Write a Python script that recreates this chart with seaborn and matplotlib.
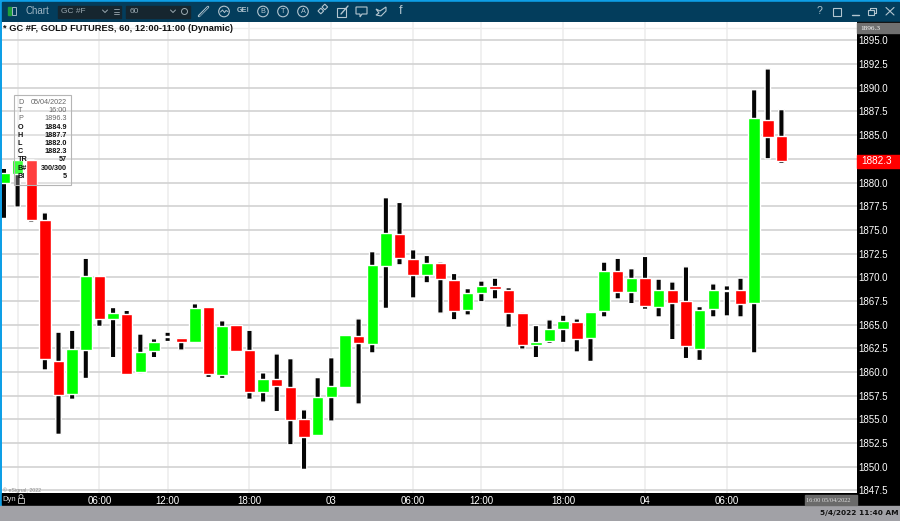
import pandas as pd
import matplotlib
matplotlib.use('Agg')
import matplotlib.pyplot as plt
from matplotlib.patches import Rectangle, Circle, Polygon
import seaborn as sns

sns.set_style('white')
plt.rcParams['font.family'] = ['Liberation Sans', 'DejaVu Sans']

# values, one entry per hourly bar
opens = [1879.9, 1880.9, 1882.4, 1876.0, 1861.2, 1857.7, 1862.3, 1870.1, 1865.6, 1866.1,
         1860.0, 1862.2, 1863.65, 1863.6, 1863.2, 1866.8, 1859.7, 1864.9, 1862.3, 1857.9,
         1859.2, 1858.4, 1855.0, 1853.3, 1857.4, 1858.4, 1863.8, 1862.9, 1871.2, 1874.6,
         1871.9, 1870.2, 1871.5, 1869.7, 1866.5, 1868.3, 1869.1, 1868.7, 1866.2, 1862.8,
         1863.3, 1864.5, 1865.3, 1863.6, 1866.4, 1870.7, 1868.4, 1869.9, 1866.9, 1868.7,
         1867.5, 1862.4, 1866.6, 1868.55, 1868.7, 1867.3, 1886.6, 1884.9]
highs = [1881.5, 1882.4, 1882.4, 1876.8, 1864.2, 1864.4, 1872.0, 1870.2, 1866.8, 1866.5,
         1864.0, 1863.5, 1864.2, 1863.6, 1867.2, 1866.8, 1865.4, 1864.9, 1864.4, 1859.9,
         1861.9, 1861.4, 1856.0, 1859.4, 1861.5, 1863.9, 1865.6, 1872.7, 1878.4, 1877.9,
         1872.9, 1872.3, 1871.6, 1870.4, 1868.8, 1869.6, 1869.9, 1868.9, 1866.3, 1864.9,
         1865.5, 1866.0, 1865.6, 1866.4, 1871.6, 1872.0, 1870.9, 1872.2, 1869.8, 1869.5,
         1871.1, 1866.9, 1869.3, 1869.1, 1869.9, 1889.8, 1892.0, 1887.7]
lows = [1876.2, 1877.4, 1875.8, 1860.2, 1853.4, 1857.1, 1859.3, 1864.8, 1861.5, 1859.8,
        1859.8, 1861.5, 1863.2, 1862.3, 1863.2, 1859.4, 1859.3, 1862.1, 1857.1, 1856.8,
        1855.8, 1852.3, 1849.7, 1853.2, 1854.8, 1858.3, 1856.6, 1862.0, 1866.7, 1871.3,
        1867.8, 1869.4, 1866.2, 1865.5, 1866.0, 1867.4, 1867.7, 1864.7, 1862.4, 1861.5,
        1863.0, 1863.1, 1862.1, 1861.1, 1865.8, 1867.7, 1867.2, 1866.6, 1865.8, 1863.4,
        1861.4, 1861.2, 1865.8, 1865.9, 1865.8, 1862.0, 1882.5, 1882.0]
closes = [1881.0, 1882.4, 1876.0, 1861.4, 1857.6, 1862.4, 1870.1, 1865.6, 1866.2, 1859.8,
          1862.1, 1863.2, 1863.75, 1863.2, 1866.7, 1859.8, 1864.8, 1862.25, 1857.9, 1859.2,
          1858.5, 1854.9, 1853.1, 1857.4, 1858.5, 1863.9, 1863.0, 1871.3, 1874.7, 1872.0,
          1870.2, 1871.5, 1869.8, 1866.4, 1868.3, 1869.1, 1868.8, 1866.2, 1862.8, 1863.2,
          1864.5, 1865.4, 1863.5, 1866.3, 1870.7, 1868.4, 1869.9, 1867.0, 1868.7, 1867.3,
          1862.7, 1866.5, 1868.6, 1868.65, 1867.2, 1886.8, 1884.8, 1882.3]

tick_bars = [1, 7, 12, 18, 24, 30, 35, 41, 47, 53]
tick_labels = ['', '06:00', '12:00', '18:00', '03', '06:00', '12:00', '18:00', '04', '06:00']
price_ticks = [1847.5 + 2.5 * i for i in range(20)]

info_keys = ['D', 'T', 'P', 'O', 'H', 'L', 'C', 'TR', 'B#', 'BI']
info_values = ['05/04/2022', '16:00', '1896.3', '1884.9', '1887.7', '1882.0', '1882.3', '57', '300/300', '5']

df = pd.DataFrame({'bar': range(len(opens)), 'open': opens, 'high': highs, 'low': lows, 'close': closes})
df['body'] = (df['close'] - df['open']).abs()
df['bottom'] = df[['open', 'close']].min(axis=1)
df['range'] = df['high'] - df['low']
up = df[df['close'] >= df['open']]
down = df[df['close'] < df['open']]

W, H = 900, 521
fig = plt.figure(figsize=(9, 5.21), dpi=100)

# window chrome behind the chart, in pixels
back = fig.add_axes([0, 0, 1, 1], zorder=0)
back.set_xlim(0, W)
back.set_ylim(H, 0)
back.axis('off')
back.add_patch(Rectangle((0, 0), W, H, color='#0e9fe6'))
back.add_patch(Rectangle((1.5, 1.5), W - 3, 21, color='#033d5c'))
back.add_patch(Rectangle((857, 22), 43, 483, color='black'))
back.add_patch(Rectangle((1.5, 493), 856, 12, color='black'))
back.add_patch(Rectangle((0, 506), W, 15, color='#a1a1a6'))

# chart
left, right, top, bottom = 1.5, 857, 22, 493
ax = fig.add_axes([left / W, 1 - bottom / H, (right - left) / W, (bottom - top) / H], zorder=1)
ax.set_axisbelow(True)
sns.barplot(data=df, x='bar', y='range', bottom=df['low'].values, native_scale=True, color='#050505',
            saturation=1, width=0.4, errorbar=None, ax=ax)
for p in ax.patches:
    p.set_snap(False)
sns.barplot(data=up, x='bar', y='body', bottom=up['bottom'].values, native_scale=True, color='#00ff00',
            saturation=1, width=0.84, errorbar=None, ax=ax)
sns.barplot(data=down, x='bar', y='body', bottom=down['bottom'].values, native_scale=True, color='#ff0000',
            saturation=1, width=0.84, errorbar=None, ax=ax)
ax.set_xlim(-0.18, 62.54)
ax.set_ylim(1847.21, 1896.95)
ax.set_xlabel('')
ax.set_ylabel('')
ax.set_xticks(tick_bars)
ax.set_xticklabels(tick_labels)
ax.set_yticks(price_ticks)
# the 1882.5 label sits behind the red last-price tag
ax.set_yticklabels(['' if p == 1882.5 else f'{p:.1f}' for p in price_ticks])
ax.yaxis.tick_right()
ax.grid(True, axis='y', color='#d2d2d2', linewidth=1.2)
ax.grid(True, axis='x', color='#ededed', linewidth=1.2)
ax.axhline(1896.3, color='#ececec', linewidth=1, zorder=0)
ax.tick_params(axis='x', colors='white', length=0, pad=2.5, labelsize=7)
ax.tick_params(axis='y', colors='white', length=0, pad=1, labelsize=7)
sns.despine(ax=ax, left=True, bottom=True, top=True, right=True)

# everything on top of the chart
front = fig.add_axes([0, 0, 1, 1], zorder=2)
front.set_xlim(0, W)
front.set_ylim(H, 0)
front.axis('off')
front.patch.set_alpha(0)


def t(x, y, s, size=7, color='white', ha='left', **kw):
    front.text(x, y, s, fontsize=size, color=color, ha=ha, va='center', **kw)


t(3, 28.5, '* GC #F, GOLD FUTURES, 60, 12:00-11:00 (Dynamic)', size=6.7, color='#111111', fontweight='bold')
t(3, 490.5, '© eSignal, 2022', size=3.8, color='#8a8a8a')
t(2, 499.5, 'Dyn', size=5.5, color='#dddddd')
front.add_patch(Rectangle((18, 497.5), 6, 5.5, fill=False, edgecolor='#cccccc', linewidth=0.6))
front.add_patch(Circle((21, 496.5), 2, fill=False, edgecolor='#cccccc', linewidth=0.6))

# tooltip
front.add_patch(Rectangle((14, 95), 57, 90, facecolor='white', alpha=0.25, edgecolor='none'))
front.add_patch(Rectangle((14, 95), 57, 90, fill=False, edgecolor='#b5b5b5', linewidth=0.8))
for i, (k, v) in enumerate(zip(info_keys, info_values)):
    y = 102.5 + i * 8.2
    plain = i < 3
    col = '#666666' if plain else '#111111'
    wt = 'normal' if plain else 'bold'
    t(18, y, k, size=5.2, color=col, fontweight=wt)
    t(67, y, v, size=5.2, color=col, ha='right', fontweight=wt)

# right panel labels
front.add_patch(Rectangle((857, 23), 43, 10, color='#707070'))
t(860, 28.3, '1896.3', size=5.2, color='white', family='Liberation Serif')
front.add_patch(Rectangle((857, 155), 43, 12.5, color='#ff0000'))
t(861.5, 161.3, '1882.3', size=7.2)
front.add_patch(Rectangle((805, 495), 52, 10, color='#6a6a6a'))
t(806, 500, '16:00 05/04/2022', size=4.6, color='#dddddd', family='Liberation Serif')
t(898, 513.5, '5/4/2022 11:40 AM', size=5.3, color='#111111', ha='right', fontweight='bold', family='DejaVu Sans')

# toolbar
front.add_patch(Rectangle((8, 7), 3, 8, color='#1e9e3c'))
front.add_patch(Rectangle((12, 7), 4, 8, fill=False, edgecolor='#9fb6c4', linewidth=0.7))
t(25, 11.5, 'Chart', size=7, color='#9fb6c4')
front.add_patch(Rectangle((58, 6), 63, 12, color='#16262f'))
front.add_patch(Rectangle((126, 6), 64, 12, color='#16262f'))
t(61, 11.8, 'GC #F', size=6, color='#9aa8b0')
t(130, 11.8, '60', size=6, color='#9aa8b0')
for x0 in (105, 173):
    front.plot([x0 - 2.5, x0, x0 + 2.5], [10, 12.5, 10], color='#9aa8b0', lw=0.7)
for yy in (9, 11.5, 14):
    front.plot([113.5, 118.5], [yy, yy], color='#9aa8b0', lw=0.6)
front.add_patch(Circle((184.5, 11.5), 3, fill=False, edgecolor='#9aa8b0', linewidth=0.7))

icon = '#b4c6d0'
front.plot([199, 208], [16, 7], color=icon, lw=1.8)
front.plot([199.5, 208], [16, 7], color='#033d5c', lw=0.6)
for xc, s in [(224, ''), (263, 'B'), (283, 'T'), (303, 'A')]:
    front.add_patch(Circle((xc, 11.5), 5.3, fill=False, edgecolor=icon, linewidth=0.8))
    t(xc, 11.7, s, size=5.2, color=icon, ha='center')
front.plot([220.5, 222.5, 224.5, 226, 228], [12, 10, 12.5, 10.5, 11.5], color=icon, lw=0.7)
t(243.5, 11, 'GE!', size=5.2, color=icon, ha='center', fontweight='bold')
front.add_patch(Rectangle((318, 11), 4, 4, angle=-45, fill=False, edgecolor=icon, linewidth=0.8))
front.add_patch(Rectangle((322, 7), 4, 4, angle=-45, fill=False, edgecolor=icon, linewidth=0.8))
front.add_patch(Rectangle((337, 8), 9, 9, fill=False, edgecolor=icon, linewidth=0.8))
front.plot([341, 348], [14, 6], color=icon, lw=1)
front.add_patch(Polygon([(356, 7), (367, 7), (367, 14), (362, 14), (360, 17), (360, 14), (356, 14)],
                        fill=False, edgecolor=icon, linewidth=0.8))
front.add_patch(Polygon([(376, 9), (380, 11), (386, 7), (386, 11), (381, 16), (376, 15), (379, 13)],
                        fill=False, edgecolor=icon, linewidth=0.8))
t(401, 11.3, 'f', size=9, color=icon, ha='center')

t(819.5, 11.5, '?', size=7.5, color=icon, ha='center')
front.add_patch(Rectangle((833, 7.5), 8, 8, fill=False, edgecolor=icon, linewidth=0.8))
front.plot([852, 859], [15, 15], color=icon, lw=1)
front.add_patch(Rectangle((868, 10), 6, 5, fill=False, edgecolor=icon, linewidth=0.8))
front.plot([870, 870, 876, 876, 874], [10, 8, 8, 12.5, 12.5], color=icon, lw=0.8)
front.plot([886, 894], [7.5, 15], color=icon, lw=0.8)
front.plot([886, 894], [15, 7.5], color=icon, lw=0.8)

fig.savefig('out.png', dpi=100)
